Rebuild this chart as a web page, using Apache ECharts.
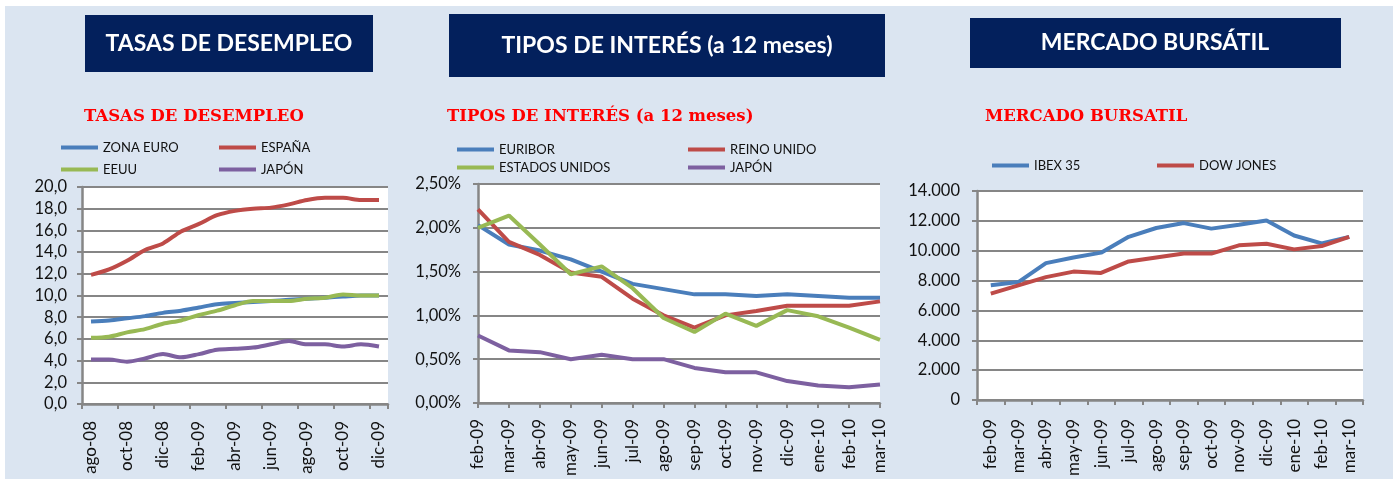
<!DOCTYPE html>
<html><head><meta charset="utf-8">
<script src="https://cdn.jsdelivr.net/npm/echarts@6/dist/echarts.min.js"></script>
<style>html,body{margin:0;padding:0;background:#fff}#c{width:1397px;height:479px}</style>
</head><body><div id="c"></div>
<script>
// ---- Data ----
const cat1 = ['ago-08','sep-08','oct-08','nov-08','dic-08','ene-09','feb-09','mar-09','abr-09','may-09','jun-09','jul-09','ago-09','sep-09','oct-09','nov-09','dic-09'];
const zonaEuro = [7.6,7.7,7.9,8.1,8.4,8.6,8.9,9.2,9.3,9.4,9.5,9.6,9.7,9.8,9.9,10.0,10.0];
const espana   = [11.9,12.4,13.2,14.2,14.8,15.9,16.6,17.4,17.8,18.0,18.1,18.4,18.8,19.0,19.0,18.8,18.8];
const eeuu     = [6.1,6.2,6.6,6.9,7.4,7.7,8.2,8.6,9.1,9.5,9.5,9.5,9.7,9.8,10.1,10.0,10.0];
const japon1   = [4.1,4.1,3.9,4.2,4.6,4.3,4.6,5.0,5.1,5.2,5.5,5.8,5.5,5.5,5.3,5.5,5.3];

const cat2 = ['feb-09','mar-09','abr-09','may-09','jun-09','jul-09','ago-09','sep-09','oct-09','nov-09','dic-09','ene-10','feb-10','mar-10'];
const euribor  = [2.03,1.81,1.74,1.64,1.50,1.36,1.30,1.24,1.24,1.22,1.24,1.22,1.20,1.20];
const reinoUnido = [2.21,1.84,1.69,1.49,1.44,1.19,1.00,0.86,1.00,1.05,1.11,1.11,1.11,1.16];
const estadosUnidos = [2.00,2.14,1.81,1.47,1.56,1.31,0.97,0.81,1.02,0.88,1.06,0.99,0.86,0.72];
const japon2   = [0.77,0.60,0.58,0.50,0.55,0.50,0.50,0.40,0.35,0.35,0.25,0.20,0.18,0.21];

const cat3 = ['feb-09','mar-09','abr-09','may-09','jun-09','jul-09','ago-09','sep-09','oct-09','nov-09','dic-09','ene-10','feb-10','mar-10'];
const ibex35   = [7680,7900,9170,9550,9870,10930,11520,11850,11480,11740,12030,11020,10490,10930];
const dowJones = [7130,7680,8230,8600,8510,9280,9550,9810,9810,10360,10470,10090,10310,10930];

const headers = ['TASAS DE DESEMPLEO','TIPOS DE INTERÉS (a 12 meses)','MERCADO BURSÁTIL'];
const subtitles = ['TASAS DE DESEMPLEO','TIPOS DE INTERÉS (a 12 meses)','MERCADO BURSATIL'];

// ---- Styles ----
const C = {blue:'#4a7ebb', red:'#be4b48', green:'#98b954', purple:'#7d60a0'};
const GRID = '#868686';
const FONT = 'Lato, "Open Sans", sans-serif';

const chart = echarts.init(document.getElementById('c'), null, {renderer:'canvas'});

function xAx(gi, data, bg, interval, margin){
  return {type:'category', gridIndex:gi, data:data, boundaryGap:bg,
    axisLine:{lineStyle:{color:GRID,width:2.5}},
    axisTick:{show:true, interval:interval, length:5, lineStyle:{color:GRID,width:2}},
    axisLabel:{rotate:90, interval:interval, fontSize:17, color:'#111', fontFamily:FONT, margin:margin},
    splitLine:{show:false}};
}
function yAx(gi, min, max, step, fmt, margin){
  return {type:'value', gridIndex:gi, min:min, max:max, interval:step,
    axisLine:{show:true, lineStyle:{color:GRID,width:2.5}},
    axisTick:{show:true, length:5, lineStyle:{color:GRID,width:2}},
    axisLabel:{formatter:fmt, fontSize:16.5, color:'#111', fontFamily:FONT, margin:margin},
    splitLine:{show:true, lineStyle:{color:GRID,width:2}}};
}
function ln(name, data, color, xi, smooth){
  return {type:'line', name:name, data:data, xAxisIndex:xi, yAxisIndex:xi,
    showSymbol:false, symbol:'none', smooth:smooth||false, lineStyle:{width:4,color:color}, itemStyle:{color:color}};
}
function lg(name, left, cy){
  return {data:[name], left:left, top:cy-8, padding:0, icon:'rect', itemWidth:37, itemHeight:4,
    itemGap:4, selectedMode:false, textStyle:{fontSize:13, color:'#111', fontFamily:FONT, padding:[0,0,0,0]}};
}

const headerBoxes = [
  {x:85, y:15, w:288, h:57, tx:229},
  {x:449, y:14, w:436, h:63, tx:667},
  {x:970, y:18, w:371, h:50, tx:1155}
];
const graphic = [
  {type:'rect', shape:{x:5,y:6,width:1388,height:473}, style:{fill:'#dbe5f1'}, z:-10, silent:true}
];
headerBoxes.forEach((b,i)=>{
  graphic.push({type:'rect', shape:{x:b.x,y:b.y,width:b.w,height:b.h}, style:{fill:'#03205c'}, z:-5});
  graphic.push({type:'text', x:b.tx, y:b.y+b.h/2, style:{text:headers[i], fill:'#fff', font:'bold 23px '+FONT, textAlign:'center', textVerticalAlign:'middle'}});
});
const subX = [84, 447, 985];
subtitles.forEach((s,i)=>{
  graphic.push({type:'text', x:subX[i], y:117, style:{text:s, fill:'#ff0000', font:'bold 16.5px "DejaVu Serif", serif', textAlign:'left', textVerticalAlign:'middle'}});
});

const fmt1 = v => v.toFixed(1).replace('.',',');
const fmt2 = v => v.toFixed(2).replace('.',',')+'%';
const fmt3 = v => v===0 ? '0' : (v/1000).toFixed(3);

chart.setOption({
  animation:false,
  backgroundColor:'#ffffff',
  graphic:graphic,
  grid:[
    {left:82, top:187, width:306, height:217, show:true, backgroundColor:'#fff', borderWidth:0},
    {left:478, top:184, width:402, height:219, show:true, backgroundColor:'#fff', borderWidth:0},
    {left:977, top:191, width:386, height:212, show:true, backgroundColor:'#fff', borderWidth:0}
  ],
  xAxis:[ xAx(0, cat1, true, 1, 17), xAx(1, cat2, false, 0, 16), xAx(2, cat3, true, 0, 19) ],
  yAxis:[ yAx(0,0,20,2,fmt1,15), yAx(1,0,2.5,0.5,fmt2,17), yAx(2,0,14000,2000,fmt3,17) ],
  legend:[
    lg('ZONA EURO',61,149), lg('ESPAÑA',219,149), lg('EEUU',61,171), lg('JAPÓN',219,171),
    lg('EURIBOR',457,151), lg('REINO UNIDO',688,151), lg('ESTADOS UNIDOS',457,169), lg('JAPÓN ',688,169),
    lg('IBEX 35',992,167), lg('DOW JONES',1157,167)
  ],
  series:[
    ln('ZONA EURO', zonaEuro, C.blue, 0, 0.3),
    ln('ESPAÑA', espana, C.red, 0, 0.3),
    ln('EEUU', eeuu, C.green, 0, 0.3),
    ln('JAPÓN', japon1, C.purple, 0, 0.3),
    ln('EURIBOR', euribor, C.blue, 1),
    ln('REINO UNIDO', reinoUnido, C.red, 1),
    ln('ESTADOS UNIDOS', estadosUnidos, C.green, 1),
    ln('JAPÓN ', japon2, C.purple, 1),
    ln('IBEX 35', ibex35, C.blue, 2),
    ln('DOW JONES', dowJones, C.red, 2)
  ]
});
</script></body></html>
